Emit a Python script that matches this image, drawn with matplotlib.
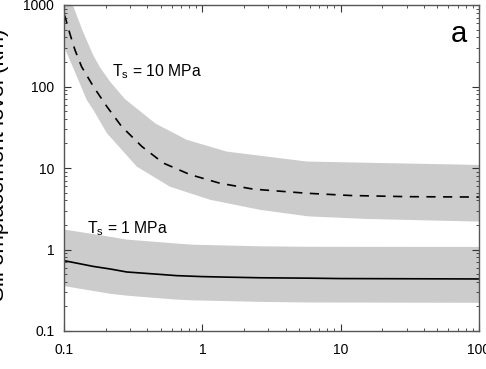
import numpy as np
import matplotlib
matplotlib.use("Agg")
import matplotlib.pyplot as plt
from matplotlib.ticker import LogLocator, FixedLocator, FixedFormatter, NullFormatter

plt.rcParams['font.family'] = ['Liberation Sans', 'DejaVu Sans']
plt.rcParams['mathtext.fontset'] = 'custom'
plt.rcParams['mathtext.rm'] = 'Liberation Sans'

# Ts = 10 MPa (dashed)
x10 = [0.1, 0.1017, 0.11, 0.12, 0.134, 0.163, 0.204, 0.261, 0.365, 0.522, 0.815,
       1.34, 2.34, 5.69, 11.7, 30, 100]
y10 = [760, 720, 450, 281, 175, 100, 56.8, 32.3, 18.4, 11.5, 8.3,
       6.5, 5.5, 4.9, 4.6, 4.45, 4.4]
x10_hi = [0.1, 0.116, 0.127, 0.138, 0.163, 0.182, 0.215, 0.276, 0.46, 0.771, 1.5, 5.7, 15.5, 100]
hi10 = [1600, 1000, 660, 460, 240, 172, 115, 70, 35, 22.2, 15.9, 12.0, 11.6, 10.9]
x10_lo = [0.1, 0.1156, 0.124, 0.146, 0.163, 0.204, 0.336, 0.494, 0.583, 1.14, 2.61, 5.83, 15.5, 100]
lo10 = [308, 175, 132, 68.5, 51.6, 26.8, 10.4, 7.0, 5.9, 4.07, 3.07, 2.55, 2.37, 2.2]

# Ts = 1 MPa (solid)
x1 = [0.1, 0.163, 0.215, 0.284, 0.494, 0.65, 1.0, 1.5, 2.6, 5.8, 10, 100]
y1 = [0.73, 0.62, 0.577, 0.53, 0.495, 0.478, 0.465, 0.458, 0.45, 0.445, 0.44, 0.435]
x1_band = [0.1, 0.215, 0.284, 0.65, 0.86, 2.6, 5.8, 100]
hi1 = [1.78, 1.45, 1.34, 1.2, 1.16, 1.11, 1.095, 1.09]
lo1 = [0.36, 0.29, 0.275, 0.246, 0.241, 0.231, 0.227, 0.225]

xticks = [0.1, 1, 10, 100]
xlabels = ['0.1', '1', '10', '100']
yticks = [0.1, 1, 10, 100, 1000]
ylabels = ['0.1', '1', '10', '100', '1000']

fig = plt.figure(figsize=(4.86, 3.69), dpi=100)
ax = fig.add_axes([64/486, 38/369, 415/486, 326/369])

band = '#cccccc'
ax.fill_between(x10_hi, 1e-3, hi10, color=band, lw=0)
ax.fill_between(x10_lo, 1e-3, lo10, color='white', lw=0)
ax.fill_between(x1_band, lo1, hi1, color=band, lw=0)
ax.plot(x10, y10, color='black', lw=1.2, ls=(0, (5.5, 4.5)))
ax.plot(x1, y1, color='black', lw=1.2)

ax.set_xscale('log')
ax.set_yscale('log')
ax.set_xlim(0.1, 100)
ax.set_ylim(0.1, 1000)

ax.xaxis.set_major_locator(FixedLocator(xticks))
ax.xaxis.set_major_formatter(FixedFormatter(xlabels))
ax.yaxis.set_major_locator(FixedLocator(yticks))
ax.yaxis.set_major_formatter(FixedFormatter(ylabels))
ax.xaxis.set_minor_locator(LogLocator(base=10, subs=np.arange(2, 10)))
ax.yaxis.set_minor_locator(LogLocator(base=10, subs=np.arange(2, 10)))
ax.xaxis.set_minor_formatter(NullFormatter())
ax.yaxis.set_minor_formatter(NullFormatter())

ax.tick_params(which='both', direction='in', top=True, right=True,
               colors='#333333', labelcolor='black', labelsize=10)
ax.tick_params(which='major', length=5, width=0.8, pad=7)
ax.tick_params(which='minor', length=2.5, width=0.6)
ax.tick_params(axis='x', pad=9)
for s in ax.spines.values():
    s.set_color('#555555')
    s.set_linewidth(1.0)

ax.text(0.221, 135, r'T$_\mathregular{s}$ = 10 MPa', fontsize=11.3, va='baseline')
ax.text(0.146, 1.59, r'T$_\mathregular{s}$ = 1 MPa', fontsize=11.3, va='baseline')
ax.text(0.97, 0.91, 'a', transform=ax.transAxes, fontsize=21, ha='right', va='center')

fig.text(-1/486, (369 - 165)/369, 'Sill emplacement level (km)', rotation=90,
         fontsize=16, ha='center', va='center')

fig.savefig('out.png', dpi=100)
